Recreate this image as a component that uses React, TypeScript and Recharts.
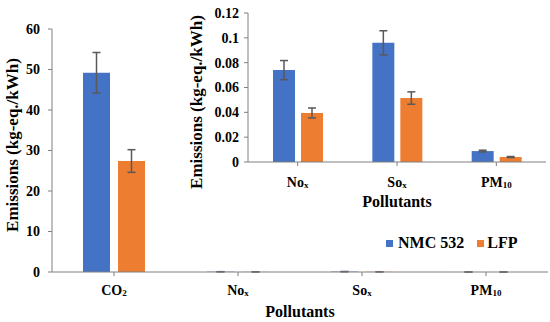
import React from "react";
import { BarChart, Bar, XAxis, YAxis, ErrorBar, Legend } from "recharts";

const categories = ["CO2", "NOx", "SOx", "PM10"];
const labelBase = ["CO", "No", "So", "PM"];
const labelSub = ["2", "x", "x", "10"];
const nmc532 = [49.2, 0.074, 0.096, 0.0088];
const lfp = [27.4, 0.0395, 0.0515, 0.004];
const nmcErr = [5.0, 0.0077, 0.0097, 0.0007];
const lfpErr = [2.8, 0.004, 0.005, 0.0004];
const mainTicks = [0, 10, 20, 30, 40, 50, 60];
const insetTicks = [0, 0.02, 0.04, 0.06, 0.08, 0.1, 0.12];

const data = categories.map((c, i) => ({
  name: c,
  nmc: nmc532[i],
  lfp: lfp[i],
  nmcErr: nmcErr[i],
  lfpErr: lfpErr[i],
}));
const insetData = data.slice(1);

const BLUE = "#4472C4";
const ORANGE = "#ED7D31";
const AXIS = "#808080";
const ERR = "#595959";
const FONT = "'Liberation Serif', 'Times New Roman', serif";

const makeTick = (dyBase: number) => (props: any) => {
  const { x, y, payload } = props;
  const idx = categories.indexOf(payload.value);
  return (
    <text
      x={x}
      y={y + dyBase}
      textAnchor="middle"
      fontFamily={FONT}
      fontWeight="bold"
      fontSize={14}
      fill="#000"
    >
      <tspan>{labelBase[idx]}</tspan>
      <tspan fontSize={9} dy={1}>{labelSub[idx]}</tspan>
    </text>
  );
};

const yTickStyle = { fontFamily: FONT, fontWeight: "bold", fontSize: 14, fill: "#000" };

const legendContent = () => (
  <div
    style={{
      display: "flex",
      alignItems: "center",
      fontFamily: FONT,
      fontWeight: "bold",
      fontSize: 16,
      color: "#000",
      whiteSpace: "nowrap",
    }}
  >
    <span style={{ width: 7, height: 7, background: BLUE, display: "inline-block", marginRight: 5 }} />
    <span style={{ marginRight: 13 }}>NMC 532</span>
    <span style={{ width: 7, height: 7, background: ORANGE, display: "inline-block", marginRight: 3 }} />
    <span>LFP</span>
  </div>
);

export default function App() {
  return (
    <div style={{ position: "absolute", left: 0, top: 0, width: 550, height: 322, background: "#fff" }}>
      <div style={{ position: "absolute", left: 0, top: 0 }}>
        <BarChart
          width={550}
          height={322}
          data={data}
          margin={{ top: 11, right: 2, left: 0, bottom: 0 }}
          barSize={27}
          barGap={8}
        >
          <XAxis
            dataKey="name"
            height={50}
            stroke={AXIS}
            tickSize={4}
            tickMargin={2}
            tick={makeTick(17)}
            tickLine={{ stroke: AXIS }}
            interval={0}
          />
          <YAxis
            width={52}
            domain={[0, 60]}
            ticks={mainTicks}
            stroke={AXIS}
            tickSize={4}
            tickMargin={8}
            tick={yTickStyle}
            interval={0}
          />
          <Legend
            verticalAlign="top"
            content={legendContent}
            wrapperStyle={{ position: "absolute", left: 386, top: 234, width: 160 }}
          />
          <Bar dataKey="nmc" name="NMC 532" fill={BLUE} isAnimationActive={false}>
            <ErrorBar dataKey="nmcErr" width={4} stroke={ERR} strokeWidth={1.5} />
          </Bar>
          <Bar dataKey="lfp" name="LFP" fill={ORANGE} isAnimationActive={false}>
            <ErrorBar dataKey="lfpErr" width={4} stroke={ERR} strokeWidth={1.5} />
          </Bar>
        </BarChart>
      </div>
      <div style={{ position: "absolute", left: 180, top: 0 }}>
        <BarChart
          width={370}
          height={215}
          data={insetData}
          margin={{ top: 13, right: 4, left: 0, bottom: 0 }}
          barSize={22}
          barGap={6}
        >
          <XAxis
            dataKey="name"
            height={53}
            stroke={AXIS}
            tickSize={4}
            tickMargin={2}
            tick={makeTick(19)}
            tickLine={{ stroke: AXIS }}
            interval={0}
          />
          <YAxis
            width={68}
            domain={[0, 0.12]}
            ticks={insetTicks}
            stroke={AXIS}
            tickSize={4}
            tickMargin={5}
            tick={yTickStyle}
            interval={0}
          />
          <Bar dataKey="nmc" name="NMC 532" fill={BLUE} isAnimationActive={false}>
            <ErrorBar dataKey="nmcErr" width={4} stroke={ERR} strokeWidth={1.5} />
          </Bar>
          <Bar dataKey="lfp" name="LFP" fill={ORANGE} isAnimationActive={false}>
            <ErrorBar dataKey="lfpErr" width={4} stroke={ERR} strokeWidth={1.5} />
          </Bar>
        </BarChart>
      </div>
      <svg
        width={550}
        height={322}
        style={{ position: "absolute", left: 0, top: 0, pointerEvents: "none" }}
      >
        <text
          x={18}
          y={145}
          transform="rotate(-90 18 145)"
          textAnchor="middle"
          fontFamily={FONT}
          fontWeight="bold"
          fontSize={17}
          fill="#000"
        >
          Emissions (kg-eq./kWh)
        </text>
        <text
          x={202}
          y={102}
          transform="rotate(-90 202 102)"
          textAnchor="middle"
          fontFamily={FONT}
          fontWeight="bold"
          fontSize={17}
          fill="#000"
        >
          Emissions (kg-eq./kWh)
        </text>
        <text x={300} y={317} textAnchor="middle" fontFamily={FONT} fontWeight="bold" fontSize={16} fill="#000">
          Pollutants
        </text>
        <text x={397} y={207} textAnchor="middle" fontFamily={FONT} fontWeight="bold" fontSize={16} fill="#000">
          Pollutants
        </text>
      </svg>
    </div>
  );
}
